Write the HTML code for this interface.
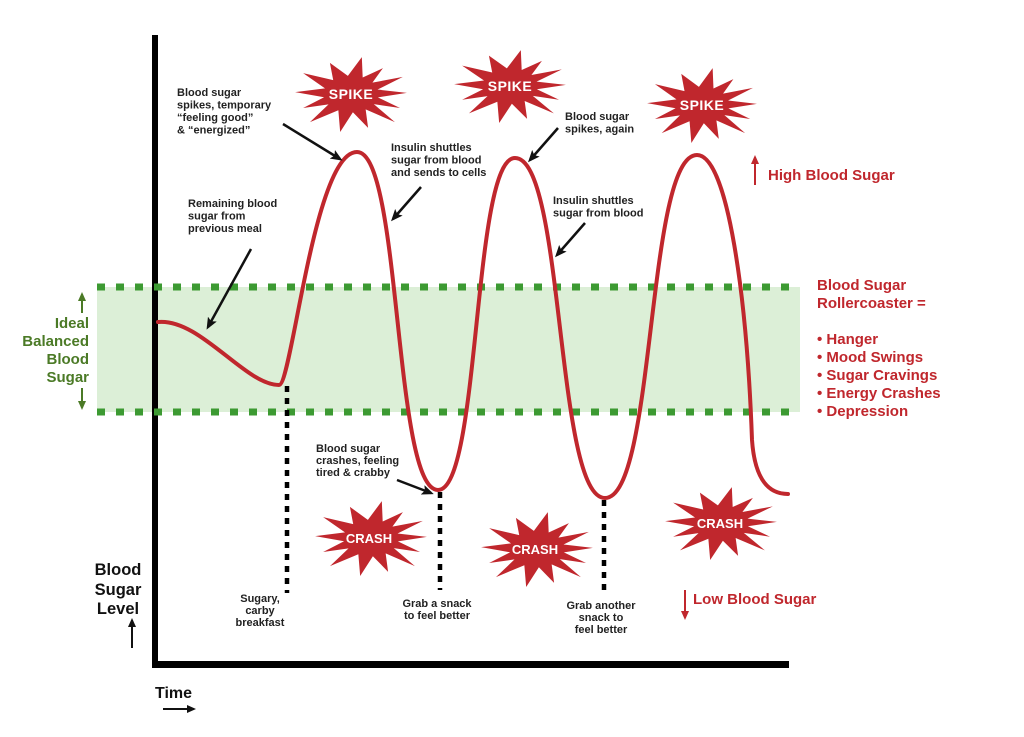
<!DOCTYPE html>
<html><head><meta charset="utf-8"><style>
html,body{margin:0;padding:0;background:#fff;}
svg{display:block;}
text{font-family:"Liberation Sans",sans-serif;font-weight:bold;}
.a{font-size:11px;fill:#222;}
.r{font-size:15px;fill:#c0272d;}
.g{font-size:15px;fill:#4b7a26;}
.s{font-size:14px;fill:#fff;letter-spacing:0.5px;}
.c{font-size:13px;fill:#fff;}
</style></head><body>
<svg width="1024" height="737" viewBox="0 0 1024 737" xmlns="http://www.w3.org/2000/svg">
<defs>
<marker id="hb" markerUnits="userSpaceOnUse" viewBox="0 0 12 10" markerWidth="12" markerHeight="10" refX="9" refY="5" orient="auto"><path d="M0,0 L12,5 L0,10 L2.5,5 z" fill="#111"/></marker>
<marker id="hs" markerUnits="userSpaceOnUse" viewBox="0 0 9 8" markerWidth="9" markerHeight="8" refX="7" refY="4" orient="auto"><path d="M0,0 L9,4 L0,8 z" fill="#111"/></marker>
<marker id="hr" markerUnits="userSpaceOnUse" viewBox="0 0 9 8" markerWidth="9" markerHeight="8" refX="7" refY="4" orient="auto"><path d="M0,0 L9,4 L0,8 z" fill="#c0272d"/></marker>
<marker id="hg" markerUnits="userSpaceOnUse" viewBox="0 0 9 8" markerWidth="9" markerHeight="8" refX="7" refY="4" orient="auto"><path d="M0,0 L9,4 L0,8 z" fill="#4b7a26"/></marker>
<polygon id="star" points="0.98,-0.03 0.4716,0.0895 0.86,0.37 0.400,0.266 0.77,0.74 0.257,0.406 0.30,0.89 0.033,0.479 -0.19,1.0 -0.222,0.426 -0.72,0.74 -0.394,0.274 -0.84,0.37 -0.472,0.087 -0.98,-0.05 -0.456,-0.149 -0.84,-0.55 -0.312,-0.365 -0.37,-0.82 -0.055,-0.477 0.19,-0.97 0.205,-0.434 0.56,-0.68 0.376,-0.298 0.91,-0.45 0.466,-0.117"/>
</defs>

<!-- band -->
<rect x="97" y="287" width="703" height="125" fill="#dcefd7"/>

<!-- axes -->
<rect x="152" y="35" width="6" height="633" fill="#000"/>
<rect x="152" y="661" width="637" height="7" fill="#000"/>

<!-- green dashed lines -->
<line x1="97" y1="287" x2="800" y2="287" stroke="#3c9a32" stroke-width="7" stroke-dasharray="8 11"/>
<line x1="97" y1="412" x2="800" y2="412" stroke="#3c9a32" stroke-width="7" stroke-dasharray="8 11"/>

<!-- dotted verticals -->
<line x1="287" y1="386" x2="287" y2="593" stroke="#000" stroke-width="4.5" stroke-dasharray="6 6"/>
<line x1="440" y1="492" x2="440" y2="590" stroke="#000" stroke-width="4.5" stroke-dasharray="6 6"/>
<line x1="604" y1="500" x2="604" y2="594" stroke="#000" stroke-width="4.5" stroke-dasharray="6 6"/>

<!-- curve -->
<path d="M158,322 C200,318 245,385 279,385 C292,385 314,152 357,152 C401.5,152 393.5,490 438,490 C480.4,490 472.6,158 515,158 C564.5,158 555.5,498 605,498 C655.6,498 646.4,155 697,155 C728,155 747,300 752,440 C755,482 770,494 788,494" fill="none" stroke="#c0272d" stroke-width="4" stroke-linecap="round"/>

<!-- stars -->
<g fill="#c0272d">
<use href="#star" transform="translate(351,94) scale(57,38)"/>
<use href="#star" transform="translate(510,86) scale(57,37)"/>
<use href="#star" transform="translate(702,105) scale(56,38)"/>
<use href="#star" transform="translate(371,538) scale(57,38)"/>
<use href="#star" transform="translate(537,549) scale(57,38)"/>
<use href="#star" transform="translate(721,523) scale(57,37)"/>
</g>
<text class="s" x="351" y="99" text-anchor="middle">SPIKE</text>
<text class="s" x="510" y="91" text-anchor="middle">SPIKE</text>
<text class="s" x="702" y="110" text-anchor="middle">SPIKE</text>
<text class="c" x="369" y="543" text-anchor="middle">CRASH</text>
<text class="c" x="535" y="554" text-anchor="middle">CRASH</text>
<text class="c" x="720" y="528" text-anchor="middle">CRASH</text>

<!-- black annotation arrows -->
<g stroke="#111" stroke-width="2.5" fill="none">
<line x1="283" y1="124" x2="340" y2="159" marker-end="url(#hb)"/>
<line x1="251" y1="249" x2="208" y2="327" marker-end="url(#hb)"/>
<line x1="421" y1="187" x2="393" y2="219" marker-end="url(#hb)"/>
<line x1="558" y1="128" x2="530" y2="160" marker-end="url(#hb)"/>
<line x1="585" y1="223" x2="557" y2="255" marker-end="url(#hb)"/>
<line x1="397" y1="480" x2="431" y2="493" marker-end="url(#hb)"/>
</g>

<!-- small arrows -->
<line x1="755" y1="185" x2="755" y2="157" stroke="#c0272d" stroke-width="2" marker-end="url(#hr)"/>
<line x1="685" y1="590" x2="685" y2="618" stroke="#c0272d" stroke-width="2" marker-end="url(#hr)"/>
<line x1="82" y1="313" x2="82" y2="294" stroke="#4b7a26" stroke-width="2" marker-end="url(#hg)"/>
<line x1="82" y1="388" x2="82" y2="408" stroke="#4b7a26" stroke-width="2" marker-end="url(#hg)"/>
<line x1="132" y1="648" x2="132" y2="620" stroke="#111" stroke-width="2" marker-end="url(#hs)"/>
<line x1="163" y1="709" x2="194" y2="709" stroke="#111" stroke-width="2" marker-end="url(#hs)"/>

<!-- annotations -->
<text class="a" x="177" y="96">Blood sugar</text>
<text class="a" x="177" y="108.5">spikes, temporary</text>
<text class="a" x="177" y="121">“feeling good”</text>
<text class="a" x="177" y="133.5">&amp; “energized”</text>

<text class="a" x="188" y="207">Remaining blood</text>
<text class="a" x="188" y="219.5">sugar from</text>
<text class="a" x="188" y="232">previous meal</text>

<text class="a" x="391" y="151">Insulin shuttles</text>
<text class="a" x="391" y="163.5">sugar from blood</text>
<text class="a" x="391" y="176">and sends to cells</text>

<text class="a" x="565" y="120">Blood sugar</text>
<text class="a" x="565" y="132.5">spikes, again</text>

<text class="a" x="553" y="204">Insulin shuttles</text>
<text class="a" x="553" y="216.5">sugar from blood</text>

<text class="a" x="316" y="452">Blood sugar</text>
<text class="a" x="316" y="464">crashes, feeling</text>
<text class="a" x="316" y="476">tired &amp; crabby</text>

<g text-anchor="middle">
<text class="a" x="260" y="602">Sugary,</text>
<text class="a" x="260" y="614">carby</text>
<text class="a" x="260" y="626">breakfast</text>
<text class="a" x="437" y="607">Grab a snack</text>
<text class="a" x="437" y="619">to feel better</text>
<text class="a" x="601" y="609">Grab another</text>
<text class="a" x="601" y="621">snack to</text>
<text class="a" x="601" y="633">feel better</text>
</g>

<!-- right side red text -->
<text class="r" x="768" y="180">High Blood Sugar</text>
<text class="r" x="693" y="604">Low Blood Sugar</text>
<text class="r" x="817" y="290">Blood Sugar</text>
<text class="r" x="817" y="308">Rollercoaster =</text>
<text class="r" x="817" y="344">• Hanger</text>
<text class="r" x="817" y="362">• Mood Swings</text>
<text class="r" x="817" y="380">• Sugar Cravings</text>
<text class="r" x="817" y="398">• Energy Crashes</text>
<text class="r" x="817" y="416">• Depression</text>

<!-- left green text -->
<g text-anchor="end">
<text class="g" x="89" y="328">Ideal</text>
<text class="g" x="89" y="346">Balanced</text>
<text class="g" x="89" y="364">Blood</text>
<text class="g" x="89" y="382">Sugar</text>
</g>

<!-- axis labels -->
<g text-anchor="middle" style="font-size:16.5px;fill:#111;">
<text x="118" y="575">Blood</text>
<text x="118" y="595">Sugar</text>
<text x="118" y="614">Level</text>
</g>
<text x="155" y="698" style="font-size:16px;fill:#111;">Time</text>
</svg>
</body></html>
